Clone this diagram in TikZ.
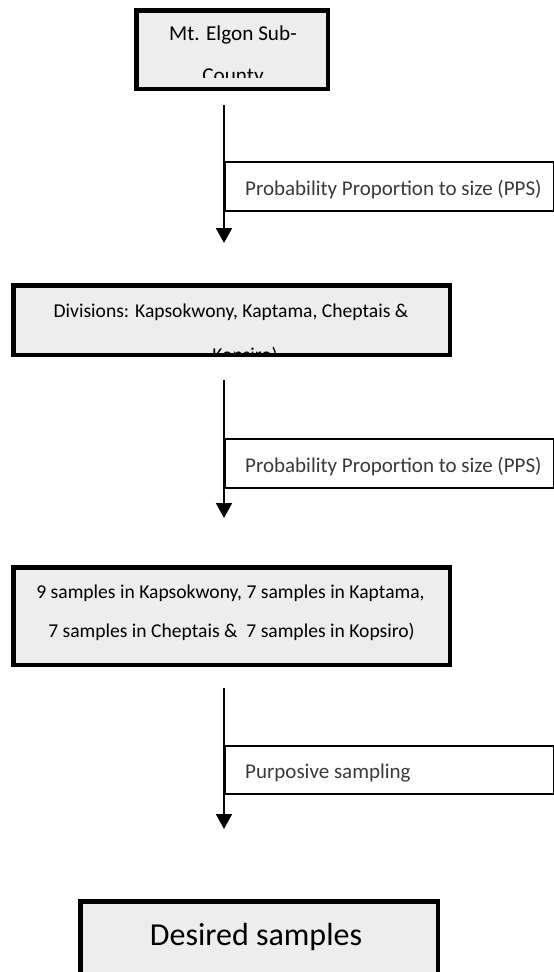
\documentclass[tikz,border=0pt]{standalone}
\usepackage{fontspec}
\setmainfont{Carlito}
\usetikzlibrary{arrows.meta}
\definecolor{boxfill}{HTML}{EDEDED}
\definecolor{labtext}{HTML}{3A3A3A}
\tikzset{
  stagebox/.style={draw=black, line width=4.5pt, fill=boxfill, inner sep=0pt},
  boxtext/.style={anchor=base, inner sep=0pt, font=\fontsize{19.6}{23}\selectfont, text=black},
  toptext/.style={anchor=base, inner sep=0pt, font=\fontsize{21.2}{25}\selectfont, text=black},
  bigtext/.style={anchor=base, inner sep=0pt, font=\fontsize{32}{37}\selectfont, text=black},
  labelbox/.style={draw=black, line width=1.5pt, fill=white, anchor=west, minimum width=329pt, inner sep=0pt},
  labeltext/.style={anchor=base west, inner sep=0pt, font=\fontsize{21}{25}\selectfont, text=labtext},
  flow/.style={line width=2pt, -{Triangle[width=16pt,length=15pt]}}
}
\begin{document}
\begin{tikzpicture}[x=1pt,y=-1pt]
\clip (0,0) rectangle (554,972);
\fill[white] (0,0) rectangle (554,972);

% Box 1
\node[stagebox, minimum width=191.5pt, minimum height=78.5pt] (b1) at (232,49.5) {};
\begin{scope}
  \clip (134,8) rectangle (330,77);
  \node[toptext] (t1a) at (233,40) {Mt. Elgon Sub-};
  \node[toptext] (t1b) at (233,82) {County};
\end{scope}

% Connector 1
\coordinate (s1) at (224,105);
\coordinate (e1) at (224,243);
\node[labelbox, minimum height=49pt] (l1) at (224,186.5) {};
\node[labeltext] (lt1) at (245,195) {Probability Proportion to size (PPS)};
\draw[flow] (s1) -- (e1);

% Box 2
\node[stagebox, minimum width=436.5pt, minimum height=69.5pt] (b2) at (231.5,320) {};
\begin{scope}
  \clip (11,283) rectangle (452,352.5);
  \node[boxtext] (t2a) at (231,317) {Divisions: Kapsokwony, Kaptama, Cheptais \&};
  \node[boxtext] (t2b) at (245,361) {Kopsiro)};
\end{scope}

% Connector 2
\coordinate (s2) at (224,380);
\coordinate (e2) at (224,518);
\node[labelbox, minimum height=49pt] (l2) at (224,463.5) {};
\node[labeltext] (lt2) at (245,472) {Probability Proportion to size (PPS)};
\draw[flow] (s2) -- (e2);

% Box 3
\node[stagebox, minimum width=436.5pt, minimum height=97.5pt] (b3) at (231.5,616) {};
\node[boxtext] (t3a) at (230.5,598) {9 samples in Kapsokwony, 7 samples in Kaptama,};
\node[boxtext] (t3b) at (231.5,637) {7 samples in Cheptais \&\ \ 7 samples in Kopsiro)};

% Connector 3
\coordinate (s3) at (224,688);
\coordinate (e3) at (224,829);
\node[labelbox, minimum height=48pt] (l3) at (224,770) {};
\node[labeltext] (lt3) at (245,778) {Purposive sampling};
\draw[flow] (s3) -- (e3);

% Box 4
\node[stagebox, minimum width=357.5pt, minimum height=91.5pt] (b4) at (259,947) {};
\node[bigtext] (t4) at (256,945) {Desired samples};
\end{tikzpicture}
\end{document}
